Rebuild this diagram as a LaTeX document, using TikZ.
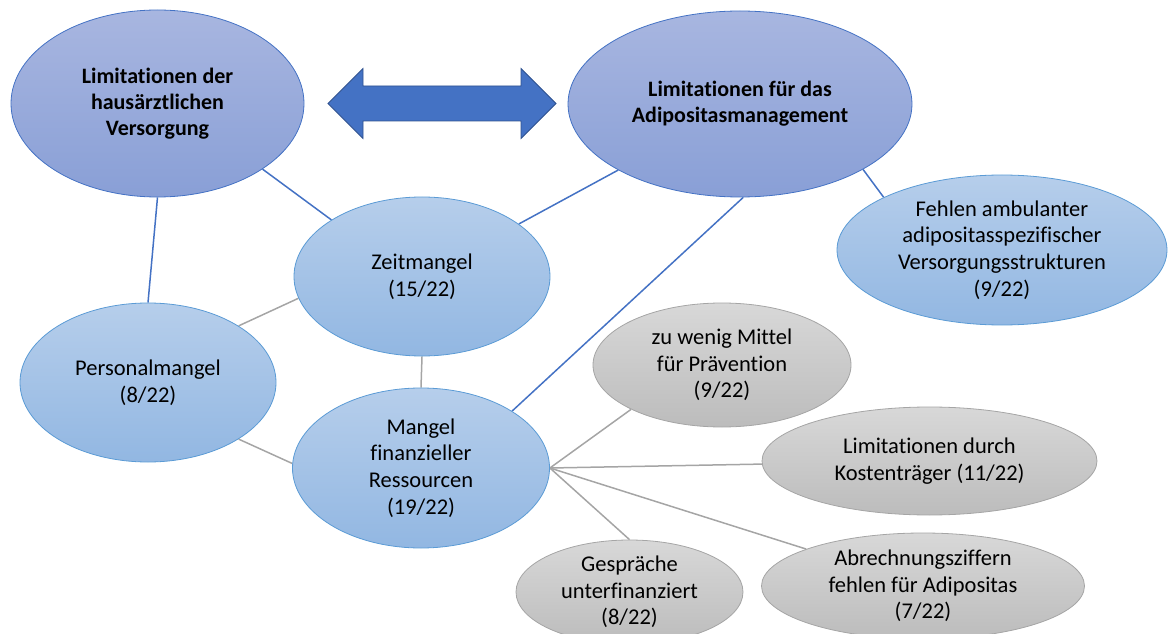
\documentclass[tikz,border=0pt]{standalone}
\usepackage{fontspec}
\setmainfont{Carlito}[Ligatures=NoCommon]
\usetikzlibrary{shapes.geometric,backgrounds}

\definecolor{bigtop}{RGB}{168,182,224}
\definecolor{bigbot}{RGB}{137,159,214}
\definecolor{bigedge}{RGB}{68,114,196}
\definecolor{medtop}{RGB}{182,206,235}
\definecolor{medbot}{RGB}{146,183,226}
\definecolor{mededge}{RGB}{91,155,213}
\definecolor{greytop}{RGB}{216,216,216}
\definecolor{greybot}{RGB}{188,188,188}
\definecolor{greyedge}{RGB}{165,165,165}
\definecolor{arrowblue}{RGB}{68,114,196}
\definecolor{arrowedge}{RGB}{47,82,143}

\tikzset{
  ell/.style={ellipse, inner sep=0pt, line width=0.8bp},
  bigell/.style={ell, draw=bigedge, top color=bigtop, bottom color=bigbot},
  medell/.style={ell, draw=mededge, top color=medtop, bottom color=medbot},
  greyell/.style={ell, draw=greyedge, top color=greytop, bottom color=greybot},
  txt/.style={align=center, inner sep=0pt, font=\fontsize{22.5bp}{26.7bp}\selectfont},
  boldtxt/.style={align=center, inner sep=0pt, font=\fontsize{22bp}{26bp}\selectfont\bfseries},
  blueline/.style={draw=bigedge, line width=1.5bp},
  greyline/.style={draw=greyedge, line width=1.5bp},
  twoway/.style={draw=arrowedge, fill=arrowblue, line width=0.8bp, line join=miter},
}

\begin{document}
\begin{tikzpicture}[x=1bp, y=-1bp]
\useasboundingbox (0,0) rectangle (1168,634);

% main categories
\node[bigell, minimum width=293bp, minimum height=187bp,
      label={[boldtxt]center:Limitationen der\\hausärztlichen\\Versorgung}]
      (haus) at (157.5,103.5) {};
\node[bigell, minimum width=344bp, minimum height=186bp,
      label={[boldtxt]center:Limitationen für das\\Adipositasmanagement}]
      (adip) at (740,104) {};

% two-way block arrow between the main categories
\draw[twoway] (328,103.5) -- (363,68.5) -- (363,86) -- (521,86) -- (521,68.5)
  -- (556,103.5) -- (521,138.5) -- (521,121) -- (363,121) -- (363,138.5) -- cycle;

% blue sub-categories
\node[medell, minimum width=330bp, minimum height=150bp,
      label={[txt]center:Fehlen ambulanter\\adipositasspezifischer\\Versorgungsstrukturen\\(9/22)}]
      (fehl) at (1002,250) {};
\node[medell, minimum width=256bp, minimum height=159bp,
      label={[txt]center:Zeitmangel\\(15/22)}]
      (zeit) at (422,276.5) {};
\node[medell, minimum width=256bp, minimum height=159bp,
      label={[txt]center:Personalmangel\\(8/22)}]
      (pers) at (148,382.5) {};
\node[medell, minimum width=257bp, minimum height=160bp,
      label={[txt]center:Mangel\\finanzieller\\Ressourcen\\(19/22)}]
      (fin) at (421,468) {};

% grey details of the financial shortage
\node[greyell, minimum width=258bp, minimum height=124bp,
      label={[txt]center:zu wenig Mittel\\für Prävention\\(9/22)}]
      (mittel) at (722,365) {};
\node[greyell, minimum width=335bp, minimum height=108bp,
      label={[txt]center:Limitationen durch\\Kostenträger (11/22)}]
      (kosten) at (929.5,461) {};
\node[greyell, minimum width=323bp, minimum height=106bp,
      label={[txt]center:Abrechnungsziffern\\fehlen für Adipositas\\(7/22)}]
      (abr) at (923,586) {};
\node[greyell, minimum width=227bp, minimum height=104bp,
      label={[txt]center:Gespräche\\unterfinanziert\\(8/22)}]
      (gesp) at (629.5,592) {};

% connectors
\begin{scope}[on background layer]
  \draw[blueline] (haus.-32.5) -- (zeit.148);
  \draw[blueline] (haus.south) -- (pers.north);
  \draw[blueline] (adip) -- (zeit);
  \draw[blueline] (adip.-88) -- (fin.32);
  \draw[blueline] (adip.-28) -- (fehl.156);

  \draw[greyline] (pers.32) -- (zeit.190);
  \draw[greyline] (zeit.south) -- (fin.north);
  \draw[greyline] (pers.-32) -- (fin.178);
  \draw[greyline] (fin.east) -- (mittel.206);
  \draw[greyline] (fin.east) -- (kosten);
  \draw[greyline] (fin.east) -- (abr);
  \draw[greyline] (fin.east) -- (gesp.north);
\end{scope}
\end{tikzpicture}
\end{document}
